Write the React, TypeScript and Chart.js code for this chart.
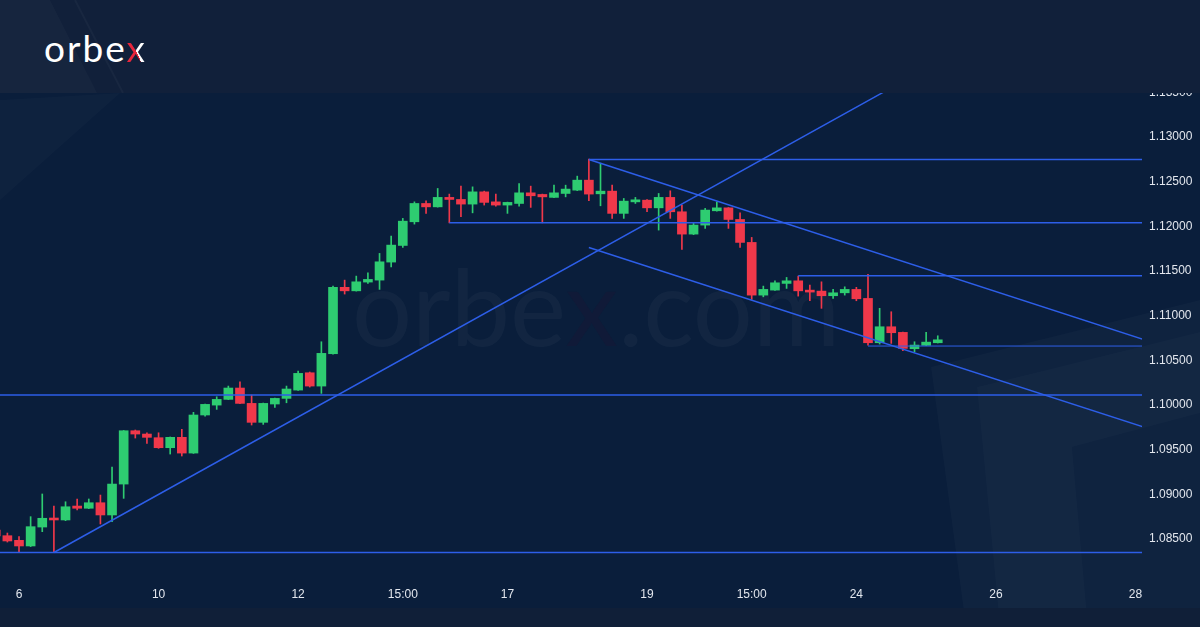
import React, { useEffect, useRef } from "react";
import { Chart, registerables } from "chart.js";

Chart.register(...registerables);

// ---- candle data (4H candles, index 0 = day "6") ----
const firstCandleIndex = -2;
const opens = [
  1.08601, 1.08537, 1.08485, 1.08422, 1.08634, 1.08735, 1.08713, 1.08869, 1.08844, 1.08906,
  1.08769, 1.09115, 1.09712, 1.09675, 1.09634, 1.09522, 1.09638, 1.09462, 1.09888, 1.09999,
  1.10063, 1.10190, 1.10018, 1.09806, 1.10011, 1.10074, 1.10167, 1.10361, 1.10212, 1.10574,
  1.11317, 1.11278, 1.11376, 1.11398, 1.11600, 1.11786, 1.12051, 1.12256, 1.12218, 1.12324,
  1.12301, 1.12249, 1.12386, 1.12274, 1.12238, 1.12256, 1.12375, 1.12357, 1.12324, 1.12368,
  1.12405, 1.12517, 1.12364, 1.12394, 1.12145, 1.12274, 1.12293, 1.12207, 1.12324, 1.12163,
  1.11913, 1.12014, 1.12174, 1.12207, 1.12077, 1.11820, 1.11230, 1.11286, 1.11361, 1.11390,
  1.11286, 1.11275, 1.11223, 1.11256, 1.11294, 1.11193, 1.10697, 1.10876, 1.10813, 1.10630,
  1.10668, 1.10697,
];
const highs = [
  1.08623, 1.08567, 1.08526, 1.08750, 1.09004, 1.08869, 1.08917, 1.08948, 1.08948, 1.08992,
  1.09306, 1.09715, 1.09720, 1.09689, 1.09689, 1.09642, 1.09728, 1.09918, 1.10010, 1.10092,
  1.10212, 1.10260, 1.10111, 1.10022, 1.10078, 1.10212, 1.10380, 1.10369, 1.10708, 1.11331,
  1.11398, 1.11443, 1.11480, 1.11697, 1.11891, 1.12089, 1.12274, 1.12286, 1.12424, 1.12361,
  1.12450, 1.12442, 1.12394, 1.12361, 1.12271, 1.12480, 1.12450, 1.12361, 1.12461, 1.12461,
  1.12562, 1.12752, 1.12707, 1.12461, 1.12312, 1.12324, 1.12299, 1.12368, 1.12398, 1.12238,
  1.12039, 1.12201, 1.12274, 1.12210, 1.12151, 1.11876, 1.11331, 1.11390, 1.11428, 1.11443,
  1.11342, 1.11379, 1.11294, 1.11323, 1.11317, 1.11462, 1.11082, 1.11044, 1.10816, 1.10708,
  1.10813, 1.10775,
];
const lows = [
  1.08511, 1.08466, 1.08355, 1.08415, 1.08582, 1.08349, 1.08705, 1.08825, 1.08840, 1.08668,
  1.08694, 1.08955, 1.09630, 1.09571, 1.09515, 1.09451, 1.09429, 1.09458, 1.09876, 1.09951,
  1.10060, 1.10015, 1.09776, 1.09783, 1.09974, 1.10025, 1.10163, 1.10201, 1.10130, 1.10570,
  1.11242, 1.11275, 1.11361, 1.11294, 1.11547, 1.11764, 1.12025, 1.12145, 1.12215, 1.12039,
  1.12107, 1.12151, 1.12238, 1.12226, 1.12145, 1.12226, 1.12212, 1.12039, 1.12322, 1.12330,
  1.12400, 1.12286, 1.12230, 1.12089, 1.12089, 1.12256, 1.12163, 1.11958, 1.12089, 1.11742,
  1.11907, 1.11977, 1.12170, 1.11977, 1.11764, 1.11182, 1.11211, 1.11283, 1.11305, 1.11219,
  1.11167, 1.11082, 1.11193, 1.11230, 1.11167, 1.10671, 1.10682, 1.10690, 1.10607, 1.10596,
  1.10665, 1.10694,
];
const closes = [
  1.08534, 1.08478, 1.08422, 1.08638, 1.08732, 1.08713, 1.08861, 1.08844, 1.08906, 1.08769,
  1.09115, 1.09712, 1.09675, 1.09638, 1.09522, 1.09638, 1.09462, 1.09888, 1.10007, 1.10063,
  1.10190, 1.10018, 1.09806, 1.10018, 1.10074, 1.10179, 1.10354, 1.10212, 1.10578, 1.11317,
  1.11278, 1.11379, 1.11406, 1.11603, 1.11790, 1.12058, 1.12256, 1.12218, 1.12324, 1.12301,
  1.12249, 1.12386, 1.12268, 1.12238, 1.12268, 1.12375, 1.12342, 1.12330, 1.12375, 1.12417,
  1.12517, 1.12361, 1.12394, 1.12145, 1.12282, 1.12297, 1.12207, 1.12324, 1.12163, 1.11913,
  1.12014, 1.12182, 1.12207, 1.12077, 1.11820, 1.11230, 1.11294, 1.11368, 1.11390, 1.11278,
  1.11264, 1.11223, 1.11256, 1.11294, 1.11189, 1.10697, 1.10876, 1.10809, 1.10634, 1.10671,
  1.10704, 1.10730,
];

// ---- axes ----
const xTickPositions = [0, 12, 24, 33, 42, 54, 63, 72, 84, 96];
const xTickLabels = ["6", "10", "12", "15:00", "17", "19", "15:00", "24", "26", "28"];
const priceTicks = [1.085, 1.09, 1.095, 1.1, 1.105, 1.11, 1.115, 1.12, 1.125, 1.13, 1.135];
const xMin = -1.634;
const xMax = 96.56;
const yMin = 1.08153;
const yMax = 1.13862;

// ---- drawings: horizontal levels ----
const levelStart = [49, 37, 67, 73, xMin, xMin];
const levelPrice = [1.12749, 1.12039, 1.11446, 1.1066, 1.10111, 1.08349];
const levelThin = [false, false, false, true, false, false];

// ---- drawings: trend lines [startIndex, startPrice, endIndex, endPrice] ----
const trendRise = [3, 1.08349, 76, 1.13622];
const channelTop = [49, 1.12749, 97, 1.10721];
const channelBottom = [49, 1.11764, 97, 1.0974];

const UP = "#2ecc71";
const DOWN = "#f0384a";
const LINE = "#2d5ee8";

export default function App() {
  const canvasRef = useRef<HTMLCanvasElement | null>(null);

  useEffect(() => {
    const canvas = canvasRef.current;
    if (!canvas) return;
    const xs = opens.map((_, i) => i + firstCandleIndex);
    const colors = opens.map((o, i) => (closes[i] >= o ? UP : DOWN));
    const bodies = xs.map((x, i) => ({ x, y: [opens[i], closes[i]] }));
    const wicks = xs.map((x, i) => ({ x, y: [lows[i], highs[i]] }));

    const lineDs = (pts: number[][], width: number) => ({
      type: "line" as const,
      data: pts.map((p) => ({ x: p[0], y: p[1] })),
      borderColor: LINE,
      borderWidth: width,
      pointRadius: 0,
      fill: false,
      tension: 0,
      order: 0,
    });

    const lines = [
      ...levelPrice.map((p, i) => lineDs([[levelStart[i], p], [xMax + 1, p]], levelThin[i] ? 1 : 1.5)),
      lineDs([[trendRise[0], trendRise[1]], [trendRise[2], trendRise[3]]], 1.5),
      lineDs([[channelTop[0], channelTop[1]], [channelTop[2], channelTop[3]]], 1.5),
      lineDs([[channelBottom[0], channelBottom[1]], [channelBottom[2], channelBottom[3]]], 1.5),
    ];

    const chart = new Chart(canvas, {
      type: "bar",
      data: {
        datasets: [
          ...lines,
          {
            type: "bar",
            data: bodies,
            backgroundColor: colors,
            barThickness: 9,
            grouped: false,
            minBarLength: 1,
            order: 1,
          },
          {
            type: "bar",
            data: wicks,
            backgroundColor: colors,
            barThickness: 1,
            grouped: false,
            order: 2,
          },
        ] as any,
      },
      options: {
        animation: false,
        responsive: true,
        maintainAspectRatio: false,
        layout: { padding: { top: 60, left: 0, right: 0, bottom: 0 } },
        plugins: { legend: { display: false }, tooltip: { enabled: false } },
        scales: {
          x: {
            type: "linear",
            min: xMin,
            max: xMax,
            offset: false,
            grid: { display: false, offset: false },
            border: { display: false },
            afterBuildTicks: (s: any) => {
              s.ticks = xTickPositions.map((v) => ({ value: v }));
            },
            afterFit: (s: any) => {
              s.height = 57;
            },
            ticks: {
              autoSkip: false,
              maxRotation: 0,
              color: "#e3e7ee",
              font: { family: "'Liberation Sans', Arial, sans-serif", size: 12 },
              padding: 9,
              callback: (v: any) => {
                const idx = xTickPositions.indexOf(Number(v));
                return idx >= 0 ? xTickLabels[idx] : "";
              },
            },
          },
          y: {
            type: "linear",
            position: "right",
            min: yMin,
            max: yMax,
            grid: { display: false, drawTicks: false },
            border: { display: false },
            afterBuildTicks: (s: any) => {
              s.ticks = priceTicks.map((v) => ({ value: v }));
            },
            afterFit: (s: any) => {
              s.width = 58;
            },
            ticks: {
              color: "#e3e7ee",
              font: { family: "'Liberation Sans', Arial, sans-serif", size: 12 },
              padding: 7,
              callback: (v: any) => Number(v).toFixed(5),
            },
          },
        },
      } as any,
    });
    return () => chart.destroy();
  }, []);

  return (
    <div
      style={{
        position: "fixed",
        left: 0,
        top: 0,
        width: 1200,
        height: 627,
        overflow: "hidden",
        background: "#0a1e3b",
      }}
    >
      <svg width={1200} height={627} style={{ position: "absolute", left: 0, top: 0 }}>
        <polygon points="931,367 1200,300 1200,627 966,627" fill="rgba(255,255,255,0.022)" />
        <polygon points="977,387 1200,332 1200,413 1072,447 1088,627 1000,627" fill="rgba(255,255,255,0.018)" />
        <polygon points="0,100 120,93 0,200" fill="rgba(255,255,255,0.018)" />
      </svg>
      <div
        style={{
          position: "absolute",
          left: 352,
          top: 242,
          fontFamily: "Lato, sans-serif",
          fontWeight: 400,
          fontSize: 106,
          lineHeight: "127px",
          color: "rgba(255,255,255,0.035)",
          whiteSpace: "nowrap",
        }}
      >
        orbe<span style={{ color: "rgba(40,15,45,0.22)" }}>x</span>.com
      </div>
      <div style={{ position: "absolute", left: 0, top: 0, width: 1200, height: 627 }}>
        <canvas ref={canvasRef} />
      </div>
      <div
        style={{
          position: "absolute",
          left: 0,
          top: 0,
          width: 1200,
          height: 93,
          background: "#11203a",
          overflow: "hidden",
        }}
      >
        <svg width={1200} height={93} style={{ position: "absolute", left: 0, top: 0 }}>
          <polygon points="0,0 50,0 97,93 0,93" fill="rgba(255,255,255,0.022)" />
          <line x1={75} y1={0} x2={123} y2={93} stroke="rgba(255,255,255,0.03)" strokeWidth={2} />
        </svg>
        <div
          style={{
            position: "absolute",
            left: 44,
            top: 26,
            fontFamily: "Lato, sans-serif",
            fontWeight: 400,
            fontSize: 37,
            lineHeight: "44px",
            letterSpacing: 2,
            color: "#ffffff",
            whiteSpace: "nowrap",
          }}
        >
          orbe
          <span
            style={{
              backgroundImage: "linear-gradient(to top right, #e8263c 0%, #e8263c 45%, #ffffff 45%, #ffffff 100%)",
              WebkitBackgroundClip: "text",
              backgroundClip: "text",
              color: "transparent",
            }}
          >
            x
          </span>
        </div>
      </div>
      <div
        style={{
          position: "absolute",
          left: 0,
          top: 608,
          width: 1200,
          height: 19,
          background: "#101f38",
        }}
      />
    </div>
  );
}
